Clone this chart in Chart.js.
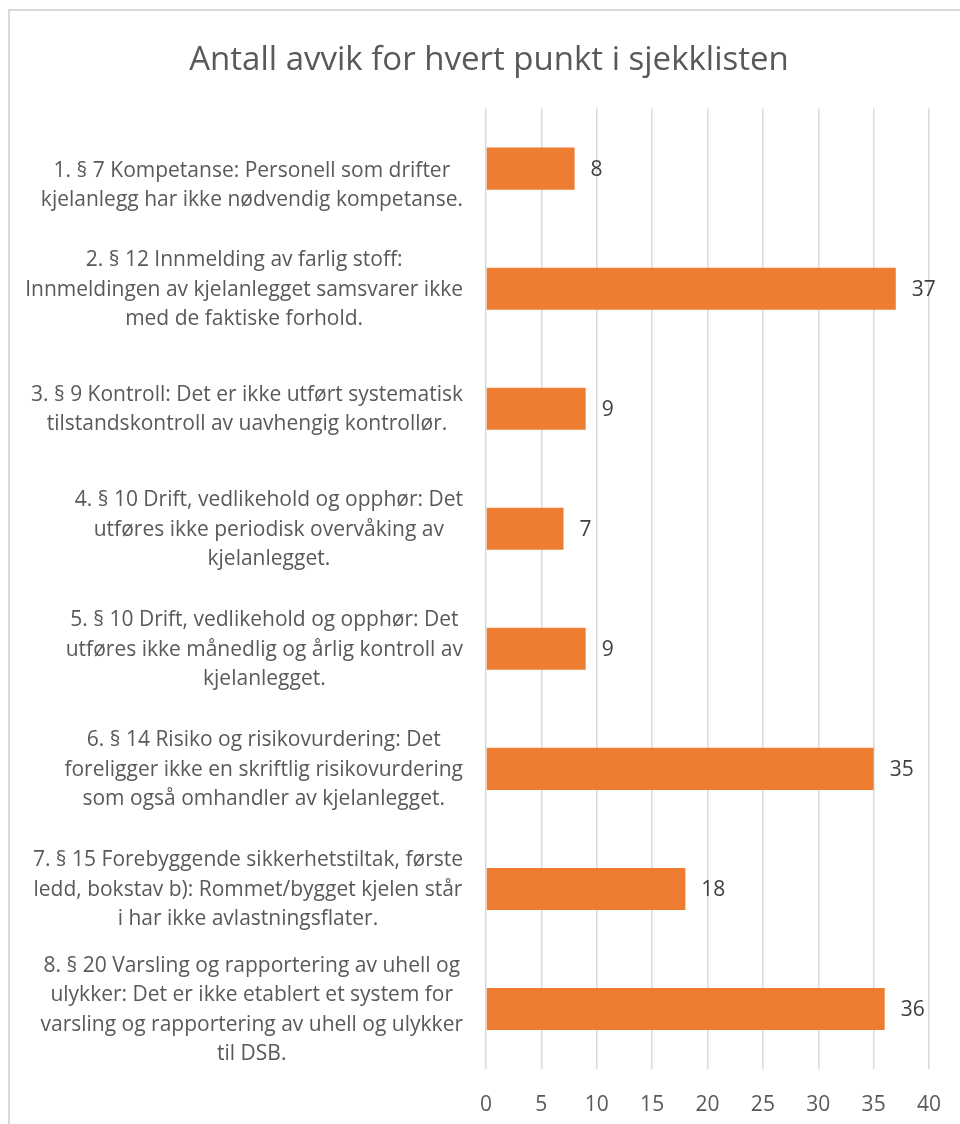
<!DOCTYPE html>
<html>
<head>
<meta charset="utf-8">
<script src="https://cdn.jsdelivr.net/npm/chart.js@4.4.1/dist/chart.umd.min.js"></script>
<style>
  html, body { margin: 0; padding: 0; background: #fff; }
  #wrap { position: absolute; left: 0; top: 0; width: 960px; height: 1124px; overflow: hidden; }
  #frame { position: absolute; left: 8px; top: 9px; width: 1000px; height: 1200px; border: 2px solid #d9d9d9; }
  #box { position: absolute; left: 0; top: 0; width: 960px; height: 1124px; }
</style>
</head>
<body>
<div id="wrap">
  <div id="frame"></div>
  <div id="box"><canvas id="avvikChart"></canvas></div>
</div>
<script>
// Chart data
var chartTitle = 'Antall avvik for hvert punkt i sjekklisten';

var punkter = [
    ['1. § 7 Kompetanse: Personell som drifter', 'kjelanlegg har ikke nødvendig kompetanse.'],
    ['2. § 12 Innmelding av farlig stoff:', 'Innmeldingen av kjelanlegget samsvarer ikke', 'med de faktiske forhold.'],
    ['3. § 9 Kontroll: Det er ikke utført systematisk', 'tilstandskontroll av uavhengig kontrollør.'],
    ['4. § 10 Drift, vedlikehold og opphør: Det', 'utføres ikke periodisk overvåking av', 'kjelanlegget.'],
    ['5. § 10 Drift, vedlikehold og opphør: Det', 'utføres ikke månedlig og årlig kontroll av', 'kjelanlegget.'],
    ['6. § 14 Risiko og risikovurdering: Det', 'foreligger ikke en skriftlig risikovurdering', 'som også omhandler av kjelanlegget.'],
    ['7. § 15 Forebyggende sikkerhetstiltak, første', 'ledd, bokstav b): Rommet/bygget kjelen står', 'i har ikke avlastningsflater.'],
    ['8. § 20 Varsling og rapportering av uhell og', 'ulykker: Det er ikke etablert et system for', 'varsling og rapportering av uhell og ulykker', 'til DSB.']
];

var antallAvvik = [8, 37, 9, 7, 9, 35, 18, 36];

var xMin = 0;
var xMax = 40;
var xStep = 5;

var FONT = '"Open Sans", "DejaVu Sans", sans-serif';
var TEXT_COLOR = '#595959';

// Draws the category labels, each block centred on its own widest line
var categoryLabels = {
    id: 'categoryLabels',
    afterDraw: function(chart) {
        var ctx = chart.ctx;
        var yScale = chart.scales.y;
        var rightEdge = yScale.right - 23;
        var lineHeight = 29.5;
        ctx.save();
        ctx.font = '21px ' + FONT;
        ctx.fillStyle = TEXT_COLOR;
        ctx.textAlign = 'center';
        ctx.textBaseline = 'middle';
        chart.data.labels.forEach(function(lines, i) {
            var widest = 0;
            lines.forEach(function(l) { widest = Math.max(widest, ctx.measureText(l).width); });
            var cx = rightEdge - widest / 2;
            var cy = yScale.getPixelForTick(i) + 1;
            // the first label sits a bit lower in the original
            if (i === 0) cy += 16;
            var y0 = cy - (lines.length - 1) * lineHeight / 2;
            lines.forEach(function(l, j) {
                ctx.fillText(l, cx, y0 + j * lineHeight);
            });
        });
        ctx.restore();
    }
};

// Value labels at the end of each bar
var valueLabels = {
    id: 'valueLabels',
    afterDatasetsDraw: function(chart) {
        var ctx = chart.ctx;
        var meta = chart.getDatasetMeta(0);
        ctx.save();
        ctx.font = '21px ' + FONT;
        ctx.fillStyle = '#404040';
        ctx.textAlign = 'left';
        ctx.textBaseline = 'middle';
        meta.data.forEach(function(bar, i) {
            ctx.fillText(chart.data.datasets[0].data[i], bar.x + 16, bar.y + 1);
        });
        ctx.restore();
    }
};

var avvikChart = new Chart(document.getElementById('avvikChart'), {
    type: 'bar',
    data: {
        labels: punkter,
        datasets: [{
            label: 'Antall avvik',
            data: antallAvvik,
            backgroundColor: '#ED7D31',
            barPercentage: 0.35,
            categoryPercentage: 1.0
        }]
    },
    options: {
        indexAxis: 'y',
        responsive: true,
        maintainAspectRatio: false,
        animation: false,
        layout: {
            padding: { left: 49, right: 31, top: 0, bottom: 0 }
        },
        scales: {
            x: {
                min: xMin,
                max: xMax,
                ticks: {
                    stepSize: xStep,
                    color: TEXT_COLOR,
                    padding: 23,
                    font: { family: FONT, size: 21 }
                },
                grid: {
                    color: '#d9d9d9',
                    lineWidth: 1.5,
                    drawTicks: false
                },
                border: { display: false },
                afterFit: function(scale) {
                    scale.height = 55;
                    // keep the plot edges fixed, the layout padding already leaves room
                    scale.paddingLeft = 0;
                    scale.paddingRight = 0;
                }
            },
            y: {
                ticks: { display: false },
                grid: { display: false },
                border: { display: false },
                afterFit: function(scale) {
                    scale.width = 437;
                }
            }
        },
        plugins: {
            legend: { display: false },
            tooltip: { enabled: false },
            title: {
                display: true,
                text: chartTitle,
                color: TEXT_COLOR,
                font: { family: FONT, size: 33, weight: 'normal' },
                padding: { top: 41, bottom: 28 }
            }
        }
    },
    plugins: [categoryLabels, valueLabels]
});
</script>
</body>
</html>
